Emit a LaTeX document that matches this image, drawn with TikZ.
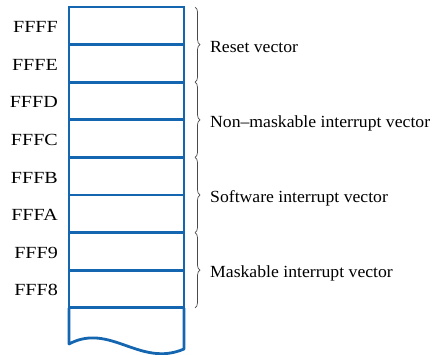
\documentclass[tikz,border=0pt]{standalone}
\usepackage{fontspec}
\setmainfont{Liberation Serif}
\usetikzlibrary{positioning,decorations.pathreplacing}
\definecolor{membox}{HTML}{1466B0}
\definecolor{bracegray}{HTML}{4A4A4A}

\begin{document}
\begin{tikzpicture}[x=1pt,y=-1pt,font=\fontsize{17}{20}\selectfont,
  cell/.style={draw=membox,line width=2.8pt,minimum width=115pt,minimum height=37.6pt,inner sep=0pt,outer sep=0pt},
  addr/.style={font=\fontsize{17}{20}\selectfont\addfontfeatures{FakeStretch=1.18},text height=11pt,text depth=0pt,inner sep=2pt},
  vec/.style={font=\fontsize{17}{20}\selectfont\addfontfeatures{FakeStretch=1.04},text height=11pt,text depth=0pt,inner sep=2pt,anchor=west},
  vbrace/.style={decorate,decoration={brace,amplitude=5pt},draw=bracegray,line width=0.7pt}]
\useasboundingbox (0,0) rectangle (439,355);
\foreach \a [count=\i] in {FFFF,FFFE,FFFD,FFFC,FFFB,FFFA,FFF9,FFF8} {
  \node[cell] (c\i) at (126.5,{7+37.6*(\i-0.5)}) {};
  \node[addr,left=9pt of c\i,yshift=-1.5pt] (a\i) {\a};
}
\draw[membox,line width=2.8pt,line join=round]
  (c8.south west) -- (69,344) .. controls (110,322) and (140,368) .. (184,349) -- (c8.south east);
\draw[vbrace] ([xshift=11pt]c1.north east) -- ([xshift=11pt]c2.south east);
\draw[vbrace] ([xshift=11pt]c3.north east) -- ([xshift=11pt]c4.south east);
\draw[vbrace] ([xshift=11pt]c5.north east) -- ([xshift=11pt]c6.south east);
\draw[vbrace] ([xshift=11pt]c7.north east) -- ([xshift=11pt]c8.south east);
\node[vec,right=24pt of c1.south east,yshift=-2pt] (v1) {Reset vector};
\node[vec,right=24pt of c3.south east,yshift=-2pt] (v2) {Non–maskable interrupt vector};
\node[vec,right=24pt of c5.south east,yshift=-2pt] (v3) {Software interrupt vector};
\node[vec,right=24pt of c7.south east,yshift=-2pt] (v4) {Maskable interrupt vector};
\end{tikzpicture}
\end{document}
